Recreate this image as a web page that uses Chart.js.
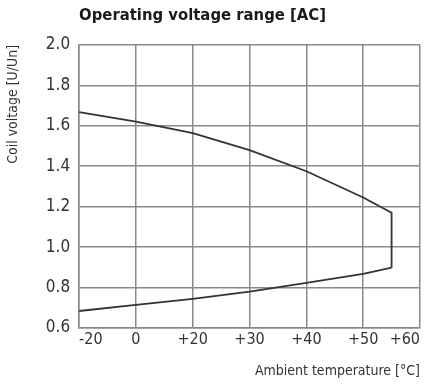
<!DOCTYPE html>
<html>
<head>
<meta charset="utf-8">
<script src="https://cdn.jsdelivr.net/npm/chart.js@4.4.1/dist/chart.umd.min.js"></script>
<style>
  html, body { margin: 0; padding: 0; background: #fff; }
  #wrap { width: 432px; height: 384px; }
</style>
</head>
<body>
<div id="wrap"><canvas id="myChart"></canvas></div>
<script>
// x axis tick labels (equally spaced on the original chart)
const xLabels = ['-20', '0', '+20', '+30', '+40', '+50', '+60'];
const yTicks = [0.6, 0.8, 1.0, 1.2, 1.4, 1.6, 1.8, 2.0];

// upper limit curve (position on the x axis grid, coil voltage)
const upperX = [0, 1, 2, 3, 4, 5, 5.5, 5.5];
const upperY = [1.667, 1.62, 1.563, 1.479, 1.375, 1.245, 1.17, 0.898];

// lower limit curve
const lowerX = [0, 1, 2, 3, 4, 5, 5.5];
const lowerY = [0.684, 0.714, 0.744, 0.78, 0.823, 0.868, 0.898];

function toPoints(xs, ys) {
    return xs.map((x, i) => ({ x: x, y: ys[i] }));
}

Chart.defaults.font.family = '"DejaVu Sans Condensed", "Liberation Sans Narrow", Arial, sans-serif';
Chart.defaults.color = '#333';

const data = {
    datasets: [{
        label: 'Upper',
        data: toPoints(upperX, upperY),
        borderColor: '#333',
        borderWidth: 1.8,
        pointRadius: 0,
        fill: false,
        tension: 0
    },
    {
        label: 'Lower',
        data: toPoints(lowerX, lowerY),
        borderColor: '#333',
        borderWidth: 1.8,
        pointRadius: 0,
        fill: false,
        tension: 0
    }]
};

const config = {
    type: 'line',
    data: data,
    options: {
        responsive: true,
        maintainAspectRatio: false,
        animation: false,
        layout: {
            padding: { left: 5, right: 12, top: 4, bottom: 4 }
        },
        scales: {
            x: {
                type: 'linear',
                min: 0,
                max: 6,
                afterBuildTicks: (axis) => {
                    axis.ticks = xLabels.map((l, i) => ({ value: i }));
                },
                ticks: {
                    callback: (v) => xLabels[v],
                    font: { size: 16 },
                    color: '#333',
                    maxRotation: 0,
                    padding: 2,
                    align: 'inner'
                },
                grid: {
                    color: '#8a8a8a',
                    lineWidth: 1.5,
                    drawTicks: false
                },
                border: { color: '#8a8a8a', width: 1.5 },
                title: {
                    display: true,
                    text: 'Ambient temperature [°C]',
                    align: 'end',
                    font: { size: 14 },
                    color: '#333',
                    padding: { top: 12, bottom: 0 }
                }
            },
            y: {
                min: 0.6,
                max: 2.0,
                afterBuildTicks: (axis) => {
                    axis.ticks = yTicks.map((v) => ({ value: v }));
                },
                ticks: {
                    callback: (v) => v.toFixed(1),
                    font: { size: 17 },
                    color: '#333',
                    padding: 9
                },
                grid: {
                    color: '#8a8a8a',
                    lineWidth: 1.5,
                    drawTicks: false
                },
                border: { color: '#8a8a8a', width: 1.5 },
                title: {
                    display: true,
                    text: 'Coil voltage [U/Un]',
                    align: 'end',
                    font: { size: 14 },
                    color: '#333',
                    padding: { top: 0, bottom: 15 }
                }
            }
        },
        plugins: {
            legend: { display: false },
            tooltip: { enabled: false },
            title: {
                display: true,
                text: 'Operating voltage range [AC]',
                align: 'start',
                fullSize: false,
                font: { size: 16.5, weight: 'bold' },
                color: '#1a1a1a',
                padding: { top: 2, bottom: 19 }
            }
        }
    }
};

new Chart(document.getElementById('myChart'), config);
</script>
</body>
</html>
